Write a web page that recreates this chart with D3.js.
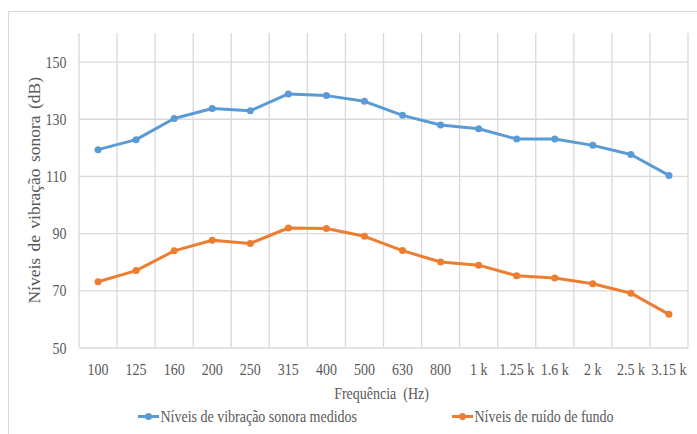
<!DOCTYPE html>
<html>
<head>
<meta charset="utf-8">
<script src="https://cdn.jsdelivr.net/npm/d3@7"></script>
<style>
  html, body { margin: 0; padding: 0; background: #fff; }
  svg { display: block; }
</style>
</head>
<body>
<svg id="chart" width="697" height="434"></svg>
<script>
// Frequency bands (Hz)
const categories = ["100", "125", "160", "200", "250", "315", "400", "500", "630", "800",
                    "1 k", "1.25 k", "1.6 k", "2 k", "2.5 k", "3.15 k"];
// Measured sound vibration levels (dB)
const measured = [119.2, 122.7, 130.1, 133.6, 132.8, 138.7, 138.1, 136.1,
                  131.2, 127.8, 126.5, 122.9, 122.9, 120.7, 117.5, 110.2];
// Background noise levels (dB)
const background = [73.0, 76.9, 83.8, 87.5, 86.4, 91.8, 91.6, 88.9,
                    83.9, 79.9, 78.8, 75.1, 74.3, 72.3, 69.0, 61.6];
const yTicks = [50, 70, 90, 110, 130, 150];
const seriesNames = ["Níveis de vibração sonora medidos", "Níveis de ruído de fundo"];
const colors = ["#5B9BD5", "#ED7D31"];

const FONT = "Liberation Serif";
const TEXT = "#595959";
const svg = d3.select("#chart");
const plot = { left: 79, right: 688, top: 33, bottom: 347.5 };

const x = d3.scaleBand().domain(categories).range([plot.left, plot.right]);
const y = d3.scaleLinear().domain([50, 160]).range([plot.bottom, plot.top]);

// Chart frame
svg.append("rect")
  .attr("x", 8.5).attr("y", 11.5).attr("width", 720).attr("height", 440)
  .attr("fill", "none").attr("stroke", "#d9d9d9").attr("stroke-width", 1);

// Horizontal gridlines
const yAxis = d3.axisLeft(y).tickValues(yTicks).tickSize(-(plot.right - plot.left)).tickFormat("");
const gy = svg.append("g").attr("transform", `translate(${plot.left},0)`).call(yAxis);
gy.select(".domain").remove();
gy.selectAll(".tick line").attr("stroke", "#d9d9d9").attr("stroke-width", 1.3);

// Vertical gridlines at band boundaries
const bounds = categories.map(c => x(c)).concat([x.range()[1]]);
svg.append("g").selectAll("line").data(bounds).join("line")
  .attr("x1", d => d).attr("x2", d => d)
  .attr("y1", plot.top).attr("y2", plot.bottom)
  .attr("stroke", "#d9d9d9").attr("stroke-width", 1.3);

// Condensed serif labels
function label(g, txt, px, py, anchor, size) {
  return g.append("text")
    .attr("transform", `translate(${px},${py}) scale(0.8,1)`)
    .attr("text-anchor", anchor)
    .attr("font-family", FONT)
    .attr("font-size", size)
    .attr("fill", TEXT)
    .text(txt);
}

const labels = svg.append("g");
yTicks.forEach(v => {
  label(labels, v, 66.5, y(v) + 6, "end", 17.5);
});
categories.forEach(c => {
  label(labels, c, x(c) + x.bandwidth() / 2, 375, "middle", 17.5);
});

// Axis titles
label(labels, "Frequência  (Hz)", (plot.left + plot.right) / 2 - 2, 399, "middle", 17.5)
  .style("white-space", "pre");
svg.append("text")
  .attr("transform", `translate(40,${(plot.top + plot.bottom) / 2}) rotate(-90)`)
  .attr("text-anchor", "middle")
  .attr("font-family", FONT)
  .attr("font-size", 17.5)
  .attr("fill", TEXT)
  .attr("word-spacing", 2)
  .text("Níveis de vibração sonora (dB)");

// Series
const line = d3.line()
  .x((d, i) => x(categories[i]) + x.bandwidth() / 2)
  .y(d => y(d));

[measured, background].forEach((vals, k) => {
  const g = svg.append("g");
  g.append("path").datum(vals)
    .attr("d", line)
    .attr("fill", "none")
    .attr("stroke", colors[k])
    .attr("stroke-width", 3)
    .attr("stroke-linejoin", "round");
  g.selectAll("circle").data(vals).join("circle")
    .attr("cx", (d, i) => x(categories[i]) + x.bandwidth() / 2)
    .attr("cy", d => y(d))
    .attr("r", 3.5)
    .attr("fill", colors[k]);
});

// Legend
const legendX = [138, 452];
seriesNames.forEach((name, k) => {
  const lg = svg.append("g").attr("transform", `translate(${legendX[k]},416.5)`);
  lg.append("line").attr("x1", 0).attr("x2", 21).attr("y1", 0).attr("y2", 0)
    .attr("stroke", colors[k]).attr("stroke-width", 3);
  lg.append("circle").attr("cx", 10.5).attr("cy", 0).attr("r", 3.5).attr("fill", colors[k]);
  label(lg, name, 22.5, 5.5, "start", 17.5);
});
</script>
</body>
</html>
